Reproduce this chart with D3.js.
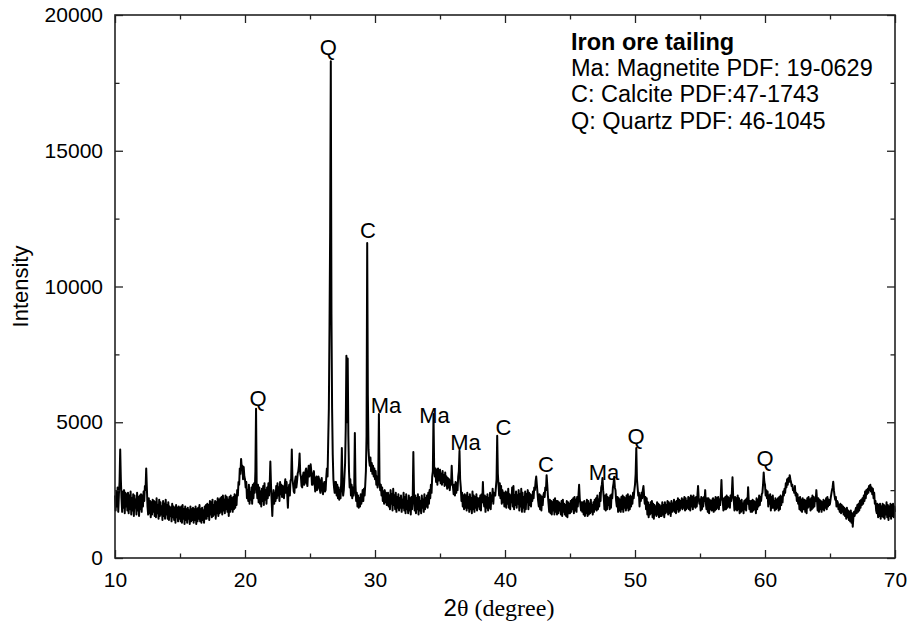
<!DOCTYPE html>
<html>
<head>
<meta charset="utf-8">
<script src="https://cdn.jsdelivr.net/npm/d3@7"></script>
<style>
  html, body { margin: 0; padding: 0; background: #fff; }
  svg { display: block; }
  text { font-family: "Liberation Sans", Arial, sans-serif; fill: #000; }
</style>
</head>
<body>
<svg id="chart" width="910" height="628"></svg>
<script>
// ---- Data ----
// Intensity sampled every 0.05° of 2θ, one array per decade (each row = one degree).
const angleStep = 0.05;

const intensity10s = [
  2300,1750,2450,1900,2600,1700,2350,2800,4000,2900, 2200,1700,2450,1850,2500,1650,2400,1900,2350,1750,
  2400,1650,2300,1800,2450,1600,2200,1750,2350,1550, 2300,1850,2150,1600,2400,1750,2250,1550,2300,1800,
  2350,1700,2300,1900,2450,2100,2650,2500,3300,2600, 1900,1600,2200,1650,2100,1500,2050,1600,2150,1700,
  2100,1550,2050,1500,2200,1650,1950,1450,2150,1550, 2050,1600,1900,1400,2100,1550,2000,1450,2150,1600,
  1950,1450,2050,1400,1900,1550,1850,1350,2000,1500, 1900,1400,1850,1300,1950,1500,1850,1350,1900,1450,
  1850,1350,1900,1300,1950,1450,1800,1250,1900,1400, 1800,1300,1850,1450,1750,1250,1900,1350,1800,1400,
  1850,1300,1800,1400,1900,1250,1800,1350,1850,1450, 1950,1350,1800,1300,1850,1400,1750,1300,1900,1450,
  1950,1450,2000,1550,1950,1400,2100,1600,2050,1500, 2150,1550,1950,1600,2100,1450,2050,1650,2200,1550,
  2150,1650,2200,1700,2250,1600,2300,1750,2150,1650, 2300,1800,2250,1700,2150,1550,2250,1700,2300,1800,
  2200,1700,2250,1800,2350,1850,2300,1950,2500,2300, 2800,2700,3300,3100,3650,3300,3400,2900,3350,3000
];
const intensity20s = [
  2900,2600,2800,2200,2500,2100,2700,2000,2400,2150, 2600,2000,2700,2200,2750,2400,3200,5500,2600,2200,
  2700,2050,2600,2000,2450,1900,2550,2100,2650,1950, 2750,2150,2500,2000,2600,2200,2750,2300,2700,3550,
  2700,2100,1550,2200,2500,2000,2400,2100,2650,2200, 2750,2300,2600,2100,2800,2350,2700,2250,2650,2300,
  2200,2650,2900,2400,2800,2300,1850,2500,2700,2300, 2850,2900,4000,2900,2700,2450,2400,2850,3000,2600,
  2800,3100,3200,3400,3850,3100,3000,2650,2600,3000, 3150,2700,2750,3200,3300,2800,2650,3150,3400,3000,
  3100,3450,3200,2700,2700,3100,3200,2800,2450,2900, 3000,2500,2600,3000,2900,2550,2400,2850,2950,2500,
  2350,2700,2800,2450,2500,2950,3300,3000,4300,5500, 8500,12000,18300,9000,5500,3800,2900,2600,2400,2800,
  2800,2300,2700,2200,2600,2150,2500,2200,2800,4050, 2600,2300,2500,3000,3500,4800,7450,5000,7350,4500,
  3200,2600,2900,2300,2700,2200,2600,2300,2500,4600, 2700,2100,2400,1900,2300,1850,2200,1900,2350,2000,
  2200,2500,2100,2550,2300,2700,3200,4500,11600,6000, 4000,3600,3400,3700,3200,3500,3100,3400,3000,3300
];
const intensity30s = [
  2900,3200,2700,3000,2600,2900,5300,2800,2500,2700, 2300,2600,2100,2450,2000,2500,2050,2400,1950,2300,
  2400,1900,2300,1800,2500,2000,2350,1750,2550,1950, 2300,1800,2400,1700,2250,1850,2350,1750,2200,1850,
  2300,1700,2150,1850,2400,1750,2250,1650,2350,1800, 2100,1650,2300,1750,2200,1600,2250,1800,2150,3900,
  2400,1750,2300,1650,2200,1800,2350,1600,2250,1750, 2100,1650,2300,1850,2150,1700,2350,1800,2200,1900,
  2300,1850,2400,2000,2500,2200,2700,2400,3000,3200, 5300,3400,3000,3300,2800,3250,2700,3300,2850,3200,
  3250,2750,3100,2700,3200,2800,3050,2650,3150,2700, 3000,2550,2950,2600,2900,2500,2800,2700,3400,2800,
  2600,2350,2700,2300,2800,2400,2750,2500,3000,3200, 3950,2900,2600,2100,2400,1900,2300,1800,2350,1850,
  2300,1750,2400,1850,2250,1700,2350,1800,2200,1650, 2450,1800,2300,1700,2250,1850,2350,1750,2200,1900,
  2200,1800,2300,1750,2350,2050,2800,2100,1900,2300, 1700,2250,1850,2350,1750,2200,1850,2400,1800,2300,
  2100,2550,2000,2400,2300,2300,2600,2900,4500,3100, 2700,2300,2750,2200,2650,2000,2500,2050,2400,1900
];
const intensity40s = [
  1900,2450,1850,2400,2000,2550,1850,2350,1800,2300, 2050,2600,1900,2650,1800,2300,1950,2450,1850,2300,
  2000,2500,1750,2350,1900,2550,1700,2400,1850,2250, 1700,2450,1800,2350,2050,2500,1800,2400,1950,2350,
  1900,2300,2100,2450,2200,2600,2500,2800,3000,2700, 2400,2100,1900,2350,1800,2300,1750,2250,1950,2300,
  2400,2250,2600,2500,3050,2700,2300,2000,1700,2150, 1650,2100,1600,2050,1750,2150,1600,2200,1700,2100,
  1600,2100,1650,2050,1750,2000,1600,2100,1550,2150, 1700,2000,1600,1950,1550,2100,1500,2050,1650,2000,
  1650,2100,1700,2150,1800,2200,1650,2250,1750,2150, 1700,2250,1900,2300,2700,2200,1950,1750,2050,1700,
  2050,1600,2100,1550,2000,1650,2150,1550,2100,1600, 2000,1650,2150,1700,1950,1600,2050,1700,2150,1800,
  2200,1750,2300,1800,2150,1900,2400,2100,2600,2700, 2950,2500,2200,1800,2300,1750,2350,1800,2250,1950,
  2200,1800,2300,1850,2350,2200,2600,2750,2990,2600, 2500,2100,1900,2250,1700,2200,1750,2150,1700,2250,
  1800,2300,1700,2250,1850,2200,1750,2300,1850,2350, 1750,2250,1800,2300,1900,2250,2000,2400,2200,2500
];
const intensity50s = [
  2700,3100,4050,2900,2600,2300,2400,1900,2300,2100, 2400,2200,2500,2650,2300,2000,2250,1800,2200,1600,
  2050,1500,1950,1600,2050,1650,2100,1500,2000,1450, 1950,1600,1900,1550,2050,1600,2000,1500,1950,1550,
  1900,1550,2050,1600,1950,1500,2050,1650,1950,1700, 2100,1600,2050,1650,2000,1550,2100,1700,2000,1750,
  2150,1700,2050,1650,2100,1800,2200,1700,2150,1750, 2100,1850,2200,1800,2150,1850,2250,1750,2200,1800,
  2100,1850,2250,1800,2200,1750,2300,1900,2250,1800, 2300,1900,2200,1850,2250,1900,2300,2650,2200,2000,
  2150,1750,2250,1800,2200,1900,2250,2100,2500,2000, 1800,2200,1700,2200,1650,2150,1800,2100,1750,2150,
  2200,1700,2150,1750,2250,1800,2200,1850,2250,1800, 2150,1950,2300,2870,2200,2100,1750,2200,1800,2250,
  1800,2300,1850,2250,1900,2200,1850,2300,2100,2400, 2970,2300,2100,1750,2250,1800,2200,1750,2300,1800,
  2200,1650,2100,1700,2150,1750,2000,1650,2100,1800, 2150,1750,2200,2000,2610,2100,1800,2100,1700,2100,
  1700,2150,1750,2100,1800,2050,1650,2200,1800,2150, 1900,2300,1950,2250,2100,2350,2400,2700,3150,2800
];
const intensity60s = [
  2700,2300,2500,2200,2450,1900,2300,2000,2350,1750, 2250,1850,2300,1850,2100,1750,2200,1800,2150,1850,
  2200,1750,2250,1800,2300,1950,2250,2050,2450,2300, 2550,2400,2750,2600,2900,2700,2950,2800,3050,2900,
  2800,2650,2700,2500,2550,2400,2650,2300,2400,2100, 2350,2000,2200,1800,2250,1750,2150,1700,2200,1800,
  1800,2150,1700,2100,1650,2200,1850,2250,1900,2150, 1750,2200,1800,2300,1850,2250,1900,2200,2100,2500,
  2150,1750,2200,1700,2150,1800,2100,1700,2050,1800, 2150,1750,2100,1850,2200,1800,2250,1900,2150,1950,
  2000,2200,2350,2500,2600,2810,2500,2300,2150,2250, 1900,2100,2050,1800,1950,1700,2000,1650,1950,1700,
  1900,1600,1850,1550,1800,1450,1850,1500,1750,1400, 1700,1350,1750,1300,1650,1150,1500,1700,1550,1750,
  1850,1650,1950,1700,2000,1750,2100,1850,2150,1950, 2200,2000,2300,2100,2450,2200,2500,2350,2550,2400,
  2650,2500,2700,2450,2600,2350,2550,2200,2400,2000, 2100,1750,1650,2000,1500,1950,1550,2000,1450,1900,
  1550,2000,1500,1950,1450,1900,1600,2050,1500,1950, 1400,1900,1550,2000,1450,1950,1550,2000,1500,1900,
  1700
];
const decadeStarts = [10, 20, 30, 40, 50, 60];

// Peak annotations (label text, 2θ position, intensity at label baseline)
const peakLabels = ["Q", "C", "Q", "Ma", "Ma", "Ma", "C", "C", "Ma", "Q", "Q"];
const peakAngles = [26.4, 29.46, 21.0, 30.85, 34.58, 36.96, 39.88, 43.15, 47.62, 50.08, 60.0];
const peakLabelIntensity = [18520, 11800, 5600, 5340, 4970, 3980, 4530, 3165, 2870, 4200, 3390];

const legendTitle = "Iron ore tailing";
const legendLines = ["Ma: Magnetite PDF: 19-0629", "C: Calcite PDF:47-1743", "Q: Quartz PDF: 46-1045"];

const xMajorTicks = [10, 20, 30, 40, 50, 60, 70];
const xMinorTicks = [15, 25, 35, 45, 55, 65];
const yMajorTicks = [0, 5000, 10000, 15000, 20000];
const yMinorTicks = [2500, 7500, 12500, 17500];

// ---- Build ----
const decades = [intensity10s, intensity20s, intensity30s, intensity40s, intensity50s, intensity60s];
const points = [];
decades.forEach((arr, di) => {
  arr.forEach((v, i) => points.push([decadeStarts[di] + i * angleStep, v]));
});

const svg = d3.select("#chart");
const W = 910, H = 628;
const margin = { left: 115, right: 15, top: 15, bottom: 70 };
const x = d3.scaleLinear().domain([10, 70]).range([margin.left, W - margin.right]);
const y = d3.scaleLinear().domain([0, 20000]).range([H - margin.bottom, margin.top]);

const axisColor = "#222";
const majorLen = 8, minorLen = 4.5;

// data line
svg.append("path")
  .datum(points)
  .attr("fill", "none")
  .attr("stroke", "#000")
  .attr("stroke-width", 2.0)
  .attr("stroke-linejoin", "round")
  .attr("d", d3.line().x(d => x(d[0])).y(d => y(d[1])));

function styleAxis(g) {
  g.select(".domain").remove();
  g.selectAll(".tick line").attr("stroke", axisColor).attr("stroke-width", 1.3);
  g.selectAll(".tick text").attr("font-size", 21).attr("fill", "#000")
    .attr("font-family", '"Liberation Sans", Arial, sans-serif');
}

// bottom
svg.append("g").attr("transform", `translate(0,${y(0)})`)
  .call(d3.axisBottom(x).tickValues(xMajorTicks).tickSize(-majorLen).tickPadding(14).tickFormat(d3.format("d")))
  .call(styleAxis);
svg.append("g").attr("transform", `translate(0,${y(0)})`)
  .call(d3.axisBottom(x).tickValues(xMinorTicks).tickSize(-minorLen).tickFormat(""))
  .call(styleAxis);
// top
svg.append("g").attr("transform", `translate(0,${y(20000)})`)
  .call(d3.axisTop(x).tickValues(xMajorTicks).tickSize(-majorLen).tickFormat(""))
  .call(styleAxis);
svg.append("g").attr("transform", `translate(0,${y(20000)})`)
  .call(d3.axisTop(x).tickValues(xMinorTicks).tickSize(-minorLen).tickFormat(""))
  .call(styleAxis);
// left
svg.append("g").attr("transform", `translate(${x(10)},0)`)
  .call(d3.axisLeft(y).tickValues(yMajorTicks).tickSize(-majorLen).tickPadding(12).tickFormat(d3.format("d")))
  .call(styleAxis);
svg.append("g").attr("transform", `translate(${x(10)},0)`)
  .call(d3.axisLeft(y).tickValues(yMinorTicks).tickSize(-minorLen).tickFormat(""))
  .call(styleAxis);
// right
svg.append("g").attr("transform", `translate(${x(70)},0)`)
  .call(d3.axisRight(y).tickValues(yMajorTicks).tickSize(-majorLen).tickFormat(""))
  .call(styleAxis);
svg.append("g").attr("transform", `translate(${x(70)},0)`)
  .call(d3.axisRight(y).tickValues(yMinorTicks).tickSize(-minorLen).tickFormat(""))
  .call(styleAxis);

// frame
svg.append("rect")
  .attr("x", x(10)).attr("y", y(20000))
  .attr("width", x(70) - x(10)).attr("height", y(0) - y(20000))
  .attr("fill", "none").attr("stroke", axisColor).attr("stroke-width", 1.6);

// peak labels
svg.append("g").selectAll("text")
  .data(peakLabels.map((t, i) => ({ t, a: peakAngles[i], v: peakLabelIntensity[i] })))
  .join("text")
  .attr("x", d => x(d.a)).attr("y", d => y(d.v))
  .attr("text-anchor", "middle")
  .attr("font-size", 22)
  .text(d => d.t);

// legend
const lg = svg.append("g");
lg.append("text").attr("x", 571).attr("y", 50).attr("font-size", 23.5).attr("font-weight", "bold").text(legendTitle);
legendLines.forEach((t, i) => {
  lg.append("text").attr("x", 571).attr("y", 76 + i * 26.3).attr("font-size", 23.5).text(t);
});

// axis titles
svg.append("text")
  .attr("transform", `translate(28,${(y(0) + y(20000)) / 2}) rotate(-90)`)
  .attr("text-anchor", "middle")
  .attr("font-size", 22)
  .text("Intensity");

const xt = svg.append("text")
  .attr("x", 499).attr("y", 616)
  .attr("text-anchor", "middle")
  .attr("font-size", 24);
xt.append("tspan").text("2");
xt.append("tspan").attr("font-family", '"Liberation Serif", "Times New Roman", serif').text("θ (degree)");
</script>
</body>
</html>
